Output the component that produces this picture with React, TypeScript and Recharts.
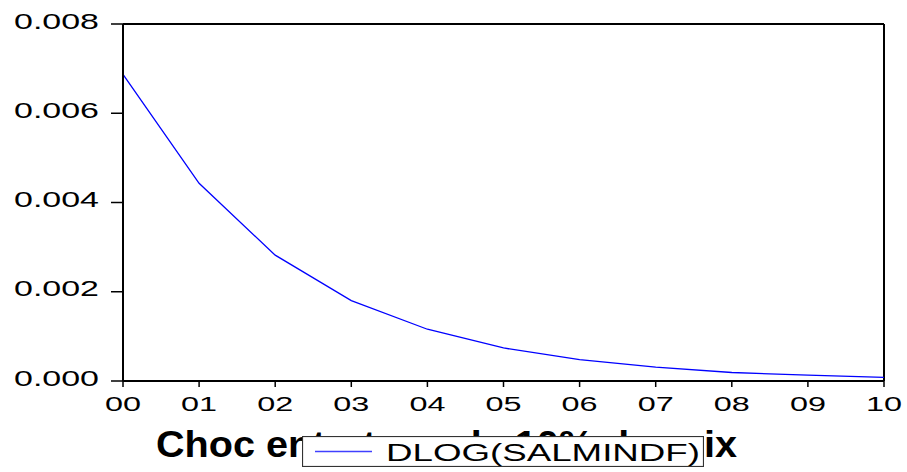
import { LineChart, Line, XAxis, YAxis, ReferenceLine, Legend } from 'recharts';

const periods = ['00', '01', '02', '03', '04', '05', '06', '07', '08', '09', '10'];
const salmindf = [0.00687, 0.00443, 0.00282, 0.0018, 0.00116, 0.00074, 0.00048, 0.00031, 0.00019, 0.00013, 0.00008];
const yTicks = [0, 0.002, 0.004, 0.006, 0.008];
const seriesName = 'DLOG(SALMINDF)';
const title = 'Choc entretenu de 10% du prix';

const data = periods.map((p, i) => ({ period: p, value: salmindf[i] }));

const FONT = '"Liberation Sans", Arial, sans-serif';

const YTick = (props: any) => {
  const { x, y, payload } = props;
  return (
    <text x={x - 12} y={y + 4.6} textAnchor="end" fontFamily={FONT} fontSize={21.5} fill="#000"
      textLength={85} lengthAdjust="spacingAndGlyphs">
      {Number(payload.value).toFixed(3)}
    </text>
  );
};

const XTick = (props: any) => {
  const { x, y, payload } = props;
  return (
    <text x={x} y={y + 24} textAnchor="middle" fontFamily={FONT} fontSize={20} fill="#000"
      textLength={36} lengthAdjust="spacingAndGlyphs">
      {payload.value}
    </text>
  );
};

// legend box sits on top of the title, like the original export
const LegendBox = () => (
  <svg width={402} height={31} style={{ display: 'block', background: '#fff' }}>
    <rect x={0.5} y={0.5} width={401} height={30} fill="#fff" stroke="#333" strokeWidth={1.2} />
    <line x1={13} y1={15.5} x2={70} y2={15.5} stroke="#4040ff" strokeWidth={1.5} />
    <text x={84} y={24.7} fontFamily={FONT} fontSize={23} fill="#000"
      textLength={314} lengthAdjust="spacingAndGlyphs">
      {seriesName}
    </text>
  </svg>
);

export default function App() {
  return (
    <div style={{ position: 'absolute', left: 0, top: 0, width: 907, height: 472, background: '#fff' }}>
      <svg width={907} height={472} style={{ position: 'absolute', left: 0, top: 0, zIndex: 0 }}>
        <text x={156} y={457} fontFamily={FONT} fontWeight="bold" fontSize={37} fill="#000"
          textLength={581} lengthAdjust="spacingAndGlyphs">
          {title}
        </text>
      </svg>
      <div style={{ position: 'absolute', left: 0, top: 0, zIndex: 1 }}>
        <LineChart width={907} height={472} data={data} margin={{ top: 24, right: 23, bottom: 0, left: 0 }}>
          <XAxis dataKey="period" height={91} tickSize={6} tickMargin={0} interval={0}
            axisLine={{ stroke: '#000', strokeWidth: 2 }} tickLine={{ stroke: '#000', strokeWidth: 1.5 }}
            tick={<XTick />} />
          <YAxis width={123} domain={[0, 0.008]} ticks={yTicks} tickSize={12} tickMargin={0}
            axisLine={{ stroke: '#000', strokeWidth: 2 }} tickLine={{ stroke: '#000', strokeWidth: 1.5 }}
            tick={<YTick />} />
          <ReferenceLine y={0.008} stroke="#000" strokeWidth={2} />
          <ReferenceLine x="10" stroke="#000" strokeWidth={2} />
          <Line type="linear" dataKey="value" name={seriesName} stroke="#0000ff" strokeWidth={1.3}
            dot={false} isAnimationActive={false} />
          <Legend layout="vertical" align="center" verticalAlign="middle" content={<LegendBox />}
            wrapperStyle={{ left: 302, top: 436, width: 402, height: 31, zIndex: 5, background: '#fff' }} />
        </LineChart>
      </div>
    </div>
  );
}
